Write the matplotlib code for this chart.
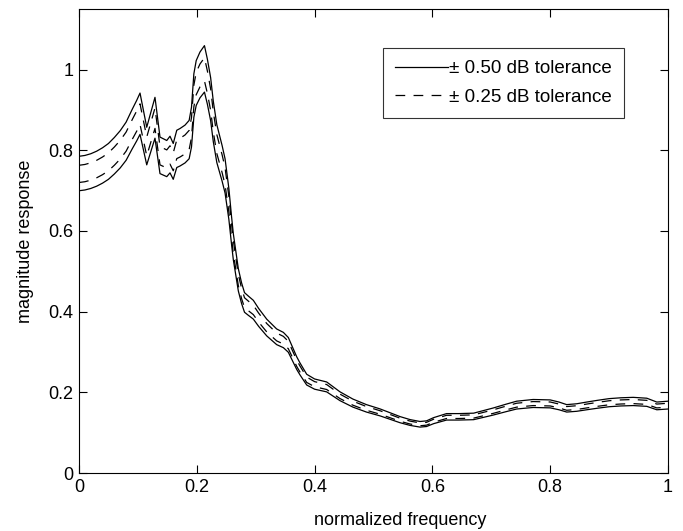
import numpy as np
import matplotlib
matplotlib.use("Agg")
import matplotlib.pyplot as plt

plt.rcParams["font.family"] = ["Liberation Sans", "DejaVu Sans"]
plt.rcParams["lines.scale_dashes"] = False

# nominal magnitude response (centre of the bands)
freq = [0.000, 0.010, 0.020, 0.030, 0.040, 0.050, 0.060, 0.070, 0.080,
        0.090, 0.098, 0.1036, 0.115, 0.129, 0.1375, 0.149, 0.1545, 0.160,
        0.166, 0.1715, 0.180, 0.187, 0.191, 0.195, 0.199, 0.2054, 0.213,
        0.218, 0.2235, 0.228, 0.234, 0.243, 0.248, 0.2545, 0.259, 0.262,
        0.2705, 0.276, 0.281, 0.2875, 0.296, 0.305, 0.3187, 0.3356, 0.347,
        0.3554, 0.3696, 0.375, 0.3866, 0.400, 0.4205, 0.443, 0.465, 0.488,
        0.511, 0.530, 0.545, 0.562, 0.579, 0.590, 0.602, 0.624, 0.645,
        0.670, 0.703, 0.725, 0.743, 0.771, 0.800, 0.815, 0.828, 0.845,
        0.862, 0.880, 0.900, 0.920, 0.941, 0.964, 0.981, 1.000]
mag = [0.741, 0.743, 0.747, 0.753, 0.761, 0.771, 0.785, 0.801, 0.821,
       0.850, 0.872, 0.889, 0.809, 0.879, 0.786, 0.778, 0.788, 0.771,
       0.802, 0.806, 0.814, 0.825, 0.856, 0.934, 0.965, 0.985, 1.000,
       0.968, 0.925, 0.870, 0.815, 0.766, 0.735, 0.665, 0.600, 0.560,
       0.478, 0.445, 0.422, 0.414, 0.404, 0.385, 0.360, 0.337, 0.329,
       0.317, 0.272, 0.258, 0.231, 0.220, 0.213, 0.190, 0.173, 0.160,
       0.150, 0.140, 0.132, 0.125, 0.1205, 0.122, 0.1295, 0.139, 0.139,
       0.140, 0.152, 0.161, 0.168, 0.172, 0.171, 0.166, 0.160, 0.162,
       0.166, 0.170, 0.174, 0.176, 0.177, 0.175, 0.166, 0.168]

tolerances_db = [0.50, 0.25]
styles = ["-", (0, (7, 6))]

fig = plt.figure(figsize=(6.83, 5.31), dpi=100)
ax = fig.add_axes([79 / 683, 1 - 473 / 531, 589 / 683, 464 / 531])

f = np.array(freq)
m = np.array(mag)
for tol, ls in zip(tolerances_db, styles):
    k = 10 ** (tol / 20)
    ax.plot(f, m * k, color="black", linestyle=ls, linewidth=0.9,
            label=f"\u00b1 {tol:.2f} dB tolerance")
    ax.plot(f, m / k, color="black", linestyle=ls, linewidth=0.9)

ax.set_xlim(0, 1)
ax.set_ylim(0, 1.15)
ax.set_xticks([0, 0.2, 0.4, 0.6, 0.8, 1])
ax.set_xticklabels(["0", "0.2", "0.4", "0.6", "0.8", "1"])
ax.set_yticks([0, 0.2, 0.4, 0.6, 0.8, 1])
ax.set_yticklabels(["0", "0.2", "0.4", "0.6", "0.8", "1"])
ax.tick_params(direction="in", top=True, right=True, length=6,
               labelsize=13, width=0.8, pad=4)
for s in ax.spines.values():
    s.set_linewidth(0.8)
ax.set_xlabel("normalized frequency", fontsize=13)
ax.xaxis.set_label_coords(0.545, -0.085)
ax.set_ylabel("magnitude response", fontsize=13, labelpad=10)

leg = ax.legend(loc="upper left", bbox_to_anchor=(0.516, 0.916),
                fontsize=13.5, frameon=True, fancybox=False,
                edgecolor="black", handlelength=2.8, handletextpad=0.1,
                borderpad=0.65, labelspacing=0.6, borderaxespad=0)
leg.get_frame().set_linewidth(0.8)

fig.savefig("out.png", dpi=100)
